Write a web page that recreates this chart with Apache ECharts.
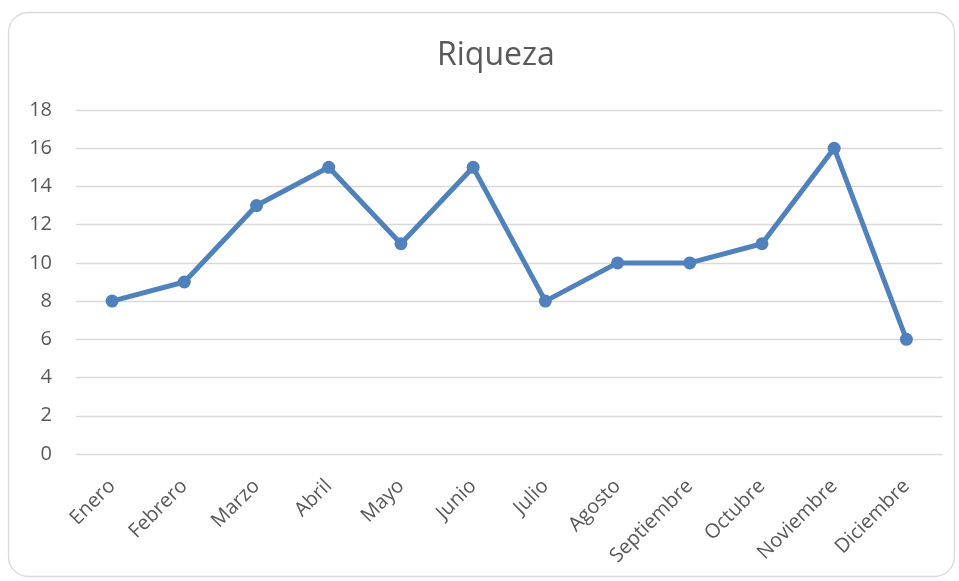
<!DOCTYPE html>
<html><head><meta charset="utf-8">
<script src="https://cdn.jsdelivr.net/npm/echarts@6/dist/echarts.min.js"></script>
<style>html,body{margin:0;padding:0;background:#fff}#c{width:959px;height:581px}</style>
</head><body><div id="c"></div>
<script>
const categories = ["Enero","Febrero","Marzo","Abril","Mayo","Junio","Julio","Agosto","Septiembre","Octubre","Noviembre","Diciembre"];
const riqueza = [8,9,13,15,11,15,8,10,10,11,16,6];
const chart = echarts.init(document.getElementById('c'));
const font = '"Open Sans", Lato, sans-serif';
chart.setOption({
  animation:false,
  backgroundColor:'#fff',
  graphic:[{type:'rect',shape:{x:8.5,y:12.5,width:946,height:564,r:20},style:{fill:'none',stroke:'#d9d9d9',lineWidth:1.3},z:-1}],
  title:{text:'Riqueza',left:432,top:35,textStyle:{fontFamily:font,fontSize:32,fontWeight:'normal',color:'#595959'}},
  grid:{left:76,right:16.5,top:110,bottom:127},
  xAxis:{type:'category',data:categories,boundaryGap:true,
    axisLine:{show:false},axisTick:{show:false},
    axisLabel:{rotate:45,interval:0,margin:29,fontFamily:font,fontSize:20,color:'#595959'}},
  yAxis:{type:'value',min:0,max:18,interval:2,
    axisLine:{show:false},axisTick:{show:false},
    splitLine:{lineStyle:{color:'#d9d9d9',width:1.3}},
    axisLabel:{margin:24,fontFamily:font,fontSize:20,color:'#595959'}},
  series:[{type:'line',data:riqueza,symbol:'circle',symbolSize:13,
    lineStyle:{color:'#4f81bd',width:5},itemStyle:{color:'#4f81bd'}}]
});
</script></body></html>
